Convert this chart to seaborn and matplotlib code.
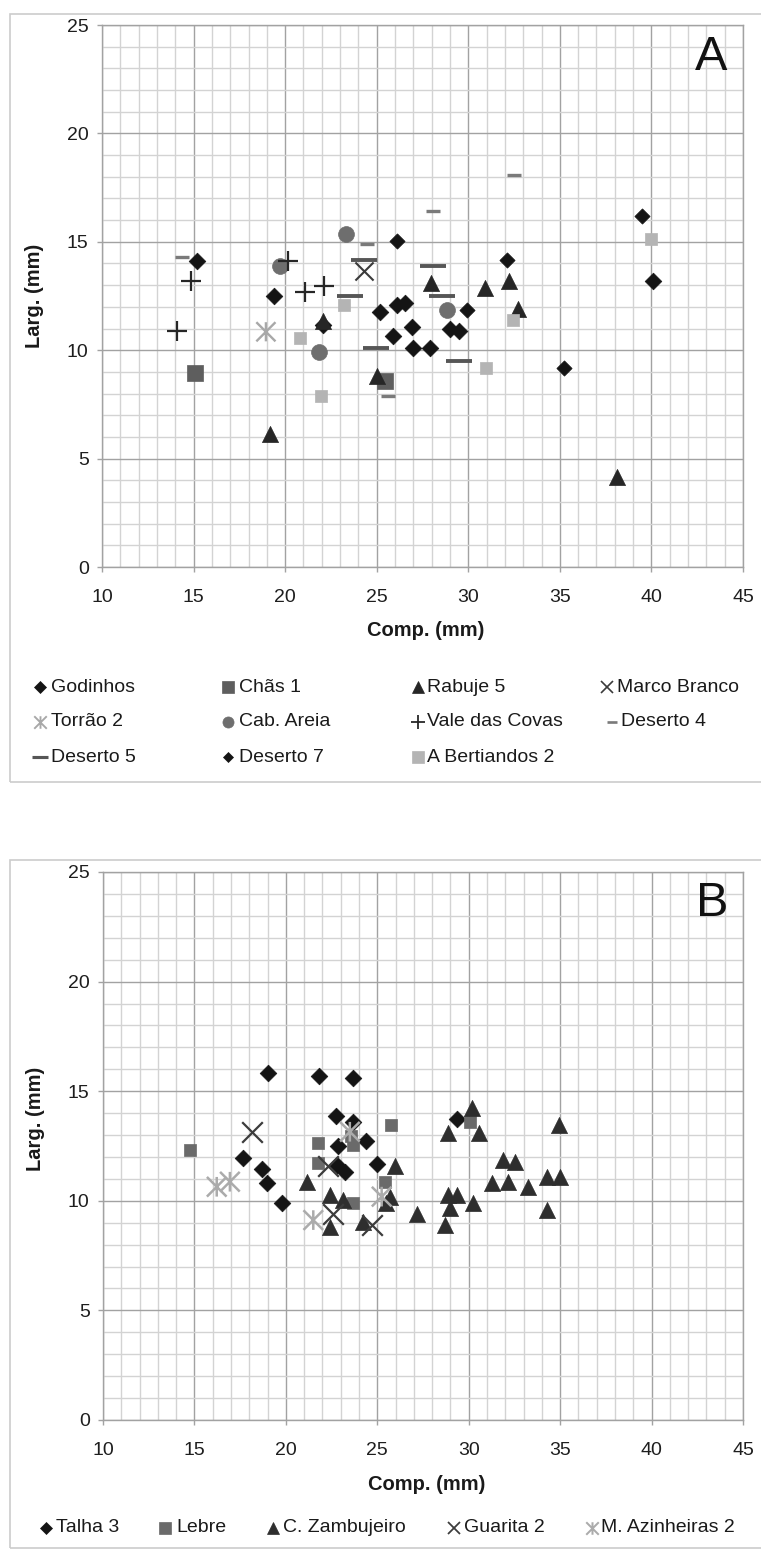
import matplotlib
matplotlib.use("Agg")
import matplotlib.pyplot as plt
from matplotlib.path import Path
from matplotlib.lines import Line2D
from matplotlib.patches import Rectangle
from matplotlib.ticker import MultipleLocator
import seaborn as sns

# ---------------- DATA (Panel A) ----------------
godinhos_x = [15.2, 19.4, 22.05, 25.2, 26.1, 26.55, 25.9, 26.9, 27.0, 27.9, 29.0, 29.5, 40.1]
godinhos_y = [14.1, 12.5, 11.15, 11.75, 12.1, 12.2, 10.65, 11.05, 10.1, 10.1, 11.0, 10.9, 13.2]
chas1_x = [15.1, 25.45]
chas1_y = [8.95, 8.6]
rabuje5_x = [19.15, 22.05, 25.0, 27.95, 30.9, 32.2, 32.7, 38.1]
rabuje5_y = [6.15, 11.35, 8.8, 13.1, 12.85, 13.2, 11.9, 4.15]
marco_branco_x = [24.3]
marco_branco_y = [13.65]
torrao2_x = [18.95]
torrao2_y = [10.85]
cab_areia_x = [19.7, 23.35, 21.85, 28.85]
cab_areia_y = [13.9, 15.35, 9.9, 11.85]
vale_covas_x = [14.1, 14.85, 20.15, 21.1, 22.1]
vale_covas_y = [10.9, 13.2, 14.1, 12.7, 12.95]
deserto4_x = [14.35, 24.45, 28.05, 32.5, 25.6]
deserto4_y = [14.3, 14.9, 16.4, 18.1, 7.9]
deserto5_x = [24.3, 23.55, 24.95, 28.1, 28.55, 29.5]
deserto5_y = [14.15, 12.5, 10.1, 13.9, 12.5, 9.5]
deserto7_x = [39.5, 35.2, 32.1, 26.1, 29.95]
deserto7_y = [16.2, 9.2, 14.15, 15.05, 11.85]
bertiandos2_x = [23.2, 20.8, 21.95, 30.95, 32.45, 40.0]
bertiandos2_y = [12.1, 10.55, 7.9, 9.2, 11.4, 15.15]

# ---------------- DATA (Panel B) ----------------
talha3_x = [19.0, 21.83, 23.69, 22.75, 23.69, 24.4, 22.85, 17.67, 18.68, 18.98, 19.77,
            22.78, 23.23, 24.96, 29.34]
talha3_y = [15.83, 15.7, 15.62, 13.85, 13.6, 12.75, 12.52, 11.94, 11.45, 10.83, 9.91,
            11.65, 11.33, 11.68, 13.73]
lebre_x = [14.78, 21.75, 21.75, 23.69, 23.55, 25.42, 23.69, 25.73, 30.07]
lebre_y = [12.3, 12.63, 11.71, 12.55, 12.95, 10.87, 9.88, 13.46, 13.61]
zambujeiro_x = [30.16, 28.88, 30.57, 34.95, 25.96, 31.85, 32.52, 31.3, 32.16, 33.25,
                34.26, 34.99, 34.26, 28.88, 29.34, 28.97, 30.21, 27.19, 28.7, 21.14,
                22.41, 23.14, 22.41, 24.2, 25.69, 25.5]
zambujeiro_y = [14.22, 13.08, 13.08, 13.46, 11.59, 11.86, 11.78, 10.8, 10.87, 10.64,
                11.1, 11.1, 9.58, 10.26, 10.26, 9.66, 9.91, 9.4, 8.9, 10.87,
                10.26, 10.04, 8.82, 9.05, 10.19, 9.9]
guarita2_x = [18.13, 22.3, 22.6, 24.72]
guarita2_y = [13.15, 11.6, 9.4, 8.9]
azinheiras2_x = [16.22, 16.94, 21.5, 25.24, 23.5]
azinheiras2_y = [10.64, 10.87, 9.12, 10.19, 13.15]

legend_a = ["Godinhos", "Chãs 1", "Rabuje 5", "Marco Branco", "Torrão 2", "Cab. Areia",
            "Vale das Covas", "Deserto 4", "Deserto 5", "Deserto 7", "A Bertiandos 2"]
legend_b = ["Talha 3", "Lebre", "C. Zambujeiro", "Guarita 2", "M. Azinheiras 2"]
x_ticks = [10, 15, 20, 25, 30, 35, 40, 45]
y_ticks = [0, 5, 10, 15, 20, 25]

# ---------------- STYLE ----------------
sns.set_theme(style="white")
plt.rcParams["font.family"] = ["Liberation Sans", "DejaVu Sans"]

STAR = Path([(-1, -1), (1, 1), (-1, 1), (1, -1), (0, -1), (0, 1)],
            [Path.MOVETO, Path.LINETO, Path.MOVETO, Path.LINETO, Path.MOVETO, Path.LINETO])

# (marker, color, scatter size, linewidth, filled, legend markersize)
styles = {
    "Godinhos":       ("D", "#141414", 72, 0.5, True, 6.5),
    "Chãs 1":         ("s", "#5e5e5e", 125, 0.5, True, 8.5),
    "Rabuje 5":       ("^", "#262626", 135, 0.5, True, 9.0),
    "Marco Branco":   ("x", "#3a3a3a", 170, 1.5, False, 9.0),
    "Torrão 2":       (STAR, "#a8a8a8", 190, 1.7, "path", 9.0),
    "Cab. Areia":     ("o", "#6e6e6e", 130, 0.5, True, 8.0),
    "Vale das Covas": ("+", "#262626", 200, 1.6, False, 9.5),
    "Deserto 4":      ("_", "#7a7a7a", 110, 2.4, False, 7.0),
    "Deserto 5":      ("_", "#565656", 370, 2.8, False, 11.0),
    "Deserto 7":      ("D", "#141414", 60, 0.5, True, 5.5),
    "A Bertiandos 2": ("s", "#b4b4b4", 80, 0.5, True, 8.5),
    "Talha 3":        ("D", "#141414", 72, 0.5, True, 6.5),
    "Lebre":          ("s", "#6a6a6a", 85, 0.5, True, 8.0),
    "C. Zambujeiro":  ("^", "#2e2e2e", 135, 0.5, True, 9.0),
    "Guarita 2":      ("x", "#3c3c3c", 220, 1.6, False, 9.0),
    "M. Azinheiras 2": (STAR, "#ababab", 200, 1.8, "path", 9.0),
}

series_a = [
    ("Godinhos", godinhos_x, godinhos_y), ("Chãs 1", chas1_x, chas1_y),
    ("Rabuje 5", rabuje5_x, rabuje5_y), ("Marco Branco", marco_branco_x, marco_branco_y),
    ("Torrão 2", torrao2_x, torrao2_y), ("Cab. Areia", cab_areia_x, cab_areia_y),
    ("Vale das Covas", vale_covas_x, vale_covas_y), ("Deserto 4", deserto4_x, deserto4_y),
    ("Deserto 5", deserto5_x, deserto5_y), ("Deserto 7", deserto7_x, deserto7_y),
    ("A Bertiandos 2", bertiandos2_x, bertiandos2_y),
]
series_b = [
    ("Talha 3", talha3_x, talha3_y), ("Lebre", lebre_x, lebre_y),
    ("C. Zambujeiro", zambujeiro_x, zambujeiro_y), ("Guarita 2", guarita2_x, guarita2_y),
    ("M. Azinheiras 2", azinheiras2_x, azinheiras2_y),
]

W, H = 761, 1551
fig = plt.figure(figsize=(W / 100, H / 100), dpi=100)
fig.patch.set_facecolor("white")


def fx(px):
    return px / W


def fy(py):
    return 1 - py / H


axA = fig.add_axes([fx(102), fy(567), (743 - 102) / W, (567 - 25) / H])
axB = fig.add_axes([fx(103), fy(1420), (743 - 103) / W, (1420 - 872) / H])


def draw_series(ax, name, xs, ys):
    m, c, s, lw, filled, _ = styles[name]
    if filled is True:
        sns.scatterplot(x=xs, y=ys, ax=ax, marker=m, color=c, s=s, linewidth=lw,
                        edgecolor=c, legend=False, zorder=3, clip_on=False)
    elif filled == "path":
        sns.scatterplot(x=xs, y=ys, ax=ax, marker=m, facecolor="none", s=s,
                        linewidth=lw, edgecolor=c, legend=False, zorder=3, clip_on=False)
    else:
        sns.scatterplot(x=xs, y=ys, ax=ax, marker=m, color=c, s=s, linewidth=lw,
                        legend=False, zorder=3, clip_on=False)


def style_axes(ax, ylab_y):
    ax.set_xlim(x_ticks[0], x_ticks[-1])
    ax.set_ylim(y_ticks[0], y_ticks[-1])
    ax.set_xticks(x_ticks)
    ax.set_yticks(y_ticks)
    ax.xaxis.set_minor_locator(MultipleLocator(1))
    ax.yaxis.set_minor_locator(MultipleLocator(1))
    ax.set_axisbelow(True)
    ax.grid(which="minor", color="#d3d3d3", linewidth=1.0)
    ax.grid(which="major", color="#a2a2a2", linewidth=1.0)
    ax.tick_params(which="major", bottom=True, left=True, length=3.6, width=1.0,
                   color="#a2a2a2", labelsize=14, labelcolor="#1e1e1e")
    ax.tick_params(axis="x", which="major", pad=12)
    ax.tick_params(axis="y", which="major", pad=6)
    ax.tick_params(which="minor", length=0)
    for sp in ax.spines.values():
        sp.set_color("#a2a2a2")
        sp.set_linewidth(1.0)
    ax.set_facecolor("white")
    ax.set_xlabel("Comp. (mm)", fontsize=14.5, fontweight="bold", color="#1a1a1a")
    ax.set_ylabel("Larg. (mm)", fontsize=14.5, fontweight="bold", color="#1a1a1a")
    ax.xaxis.set_label_coords(0.505, -0.10)
    ax.yaxis.set_label_coords(-0.091, ylab_y)


for name, xs, ys in series_a:
    draw_series(axA, name, xs, ys)
for name, xs, ys in series_b:
    draw_series(axB, name, xs, ys)

style_axes(axA, 0.5)
style_axes(axB, 0.549)

# panel letters
fig.text(fx(711), fy(57), "A", fontsize=35, ha="center", va="center", color="#111111")
fig.text(fx(712), fy(903), "B", fontsize=35, ha="center", va="center", color="#111111")

# panel frames
fig.add_artist(Rectangle((fx(10), fy(782)), fx(780) - fx(10), fy(14) - fy(782),
                         transform=fig.transFigure, fill=False, edgecolor="#cccccc",
                         linewidth=1.2, clip_on=False))
fig.add_artist(Rectangle((fx(10), fy(1548)), fx(780) - fx(10), fy(860) - fy(1548),
                         transform=fig.transFigure, fill=False, edgecolor="#cccccc",
                         linewidth=1.2, clip_on=False))


def legend_entry(name, mx, tx, py):
    m, c, s, lw, filled, ms = styles[name]
    if filled is True:
        ln = Line2D([fx(mx)], [fy(py)], marker=m, color=c, markersize=ms,
                    markeredgewidth=0.5, linestyle="none", transform=fig.transFigure)
    elif filled == "path":
        ln = Line2D([fx(mx)], [fy(py)], marker=m, markerfacecolor="none",
                    markeredgecolor=c, markersize=ms, markeredgewidth=lw * 0.8,
                    linestyle="none", transform=fig.transFigure)
    else:
        ln = Line2D([fx(mx)], [fy(py)], marker=m, color=c, markersize=ms,
                    markeredgewidth=lw * 0.8, linestyle="none", transform=fig.transFigure)
    fig.add_artist(ln)
    fig.text(fx(tx), fy(py), name, fontsize=14, ha="left", va="center", color="#1a1a1a")


# Legend A: row-major 4 columns
col_m = [40, 228, 418, 607]
col_t = [51, 239, 427, 617]
row_y = [687, 722, 757]
for i, name in enumerate(legend_a):
    r, c = divmod(i, 4)
    mx, tx = col_m[c], col_t[c]
    if name == "Deserto 4":
        mx, tx = 612, 621
    legend_entry(name, mx, tx, row_y[r])

# Legend B: single row
b_m = [46, 165, 273, 454, 592]
b_t = [56, 176, 283, 464, 601]
for i, name in enumerate(legend_b):
    legend_entry(name, b_m[i], b_t[i], 1528)

fig.savefig("out.png", dpi=100, facecolor="white")
